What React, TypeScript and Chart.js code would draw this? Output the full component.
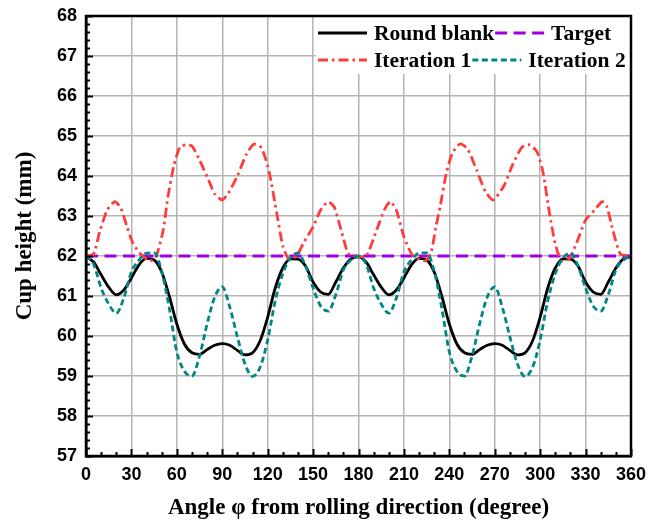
import React, { useEffect, useRef } from "react";
import { Chart, registerables } from "chart.js";

Chart.register(...registerables);

// ---- data ----
const angles = [
  0, 5, 10, 15, 20, 25, 30, 35, 40, 45, 50, 55, 60, 65, 70, 75, 80, 85, 90,
  95, 100, 105, 110, 115, 120, 125, 130, 135, 140, 145, 150, 155, 160, 165, 170, 175, 180,
  185, 190, 195, 200, 205, 210, 215, 220, 225, 230, 235, 240, 245, 250, 255, 260, 265, 270,
  275, 280, 285, 290, 295, 300, 305, 310, 315, 320, 325, 330, 335, 340, 345, 350, 355, 360,
];

const roundBlank = [
  61.98, 61.85, 61.53, 61.22, 61.03, 61.15, 61.45, 61.78, 61.94, 61.9, 61.6, 61.0, 60.3, 59.8, 59.58, 59.54, 59.66, 59.77, 59.81,
  59.77, 59.64, 59.53, 59.58, 59.88, 60.47, 61.2, 61.7, 61.93, 61.92, 61.75, 61.35, 61.1, 61.04, 61.35, 61.7, 61.93, 61.98,
  61.85, 61.53, 61.22, 61.03, 61.15, 61.45, 61.78, 61.94, 61.9, 61.6, 61.0, 60.3, 59.8, 59.58, 59.54, 59.66, 59.77, 59.81,
  59.77, 59.64, 59.53, 59.58, 59.88, 60.47, 61.2, 61.7, 61.93, 61.92, 61.75, 61.35, 61.1, 61.04, 61.35, 61.7, 61.93, 61.98,
];

const iteration2 = [
  62.0, 61.8, 61.2, 60.8, 60.57, 60.95, 61.6, 61.9, 62.07, 62.08, 61.62, 60.7, 59.6, 59.12, 59.0, 59.5, 60.3, 60.97, 61.23,
  60.72, 59.98, 59.3, 58.99, 59.22, 59.9, 60.88, 61.56, 61.95, 62.07, 61.75, 61.2, 60.75, 60.62, 61.03, 61.65, 61.9, 62.0,
  61.8, 61.2, 60.8, 60.57, 60.95, 61.6, 61.9, 62.07, 62.08, 61.62, 60.7, 59.6, 59.12, 59.0, 59.5, 60.3, 60.97, 61.23,
  60.72, 59.98, 59.3, 58.99, 59.22, 59.9, 60.88, 61.56, 61.95, 62.07, 61.75, 61.2, 60.75, 60.62, 61.03, 61.65, 61.9, 62.0,
];

const targetAngles = [0, 360];
const targetValues = [62, 62];

const iteration1Angles = [
  0, 5, 9, 14, 19, 23, 27, 31, 36, 42, 46, 51, 54, 58, 62, 66, 70, 75, 81, 85, 90,
  94, 100, 106, 111, 116, 121, 126, 130, 134, 139, 144, 150, 155, 160, 164, 168, 173, 177,
  185, 192, 197, 201, 205, 210, 216, 224, 228, 231, 234, 238, 242, 247, 252, 258, 264, 269,
  276, 282, 288, 293, 298, 302, 306, 310, 314, 319, 324, 330, 336, 341, 344, 348, 353, 360,
];
const iteration1 = [
  62.0, 62.05, 62.6, 63.15, 63.36, 63.2, 62.74, 62.32, 62.05, 61.88, 61.95, 62.65, 63.45, 64.25, 64.72, 64.78, 64.75, 64.4, 63.9, 63.55, 63.4,
  63.57, 64.0, 64.55, 64.8, 64.7, 64.1, 63.07, 62.25, 61.92, 62.0, 62.35, 62.73, 63.15, 63.36, 63.22, 62.72, 62.07, 62.0,
  62.0, 62.65, 63.15, 63.36, 63.15, 62.48, 62.0, 61.88, 62.1, 62.7, 63.25, 64.07, 64.57, 64.8, 64.68, 64.15, 63.6, 63.4,
  63.75, 64.3, 64.72, 64.78, 64.6, 64.07, 63.1, 62.3, 61.88, 61.93, 62.32, 62.9, 63.15, 63.36, 63.24, 62.65, 62.05, 62.0,
];

const X_MIN = 0;
const X_MAX = 360;
const X_STEP = 30;
const X_MINOR = 10;
const Y_MIN = 57;
const Y_MAX = 68;
const Y_STEP = 1;
const Y_MINOR = 0.2;

const seriesNames = ["Round blank", "Target", "Iteration 1", "Iteration 2"];

// ---- styles ----
const C_BLACK = "#000000";
const C_TARGET = "#a000e0";
const C_IT1 = "#ff3c3c";
const C_IT2 = "#008585";
const DASH_TARGET = [12, 6.5];
const DASH_IT1 = [10, 4, 2.5, 4];
const DASH_IT2 = [6, 3.5];
const SANS = "'Liberation Sans', Arial, sans-serif";
const SERIF = "'Liberation Serif', 'Times New Roman', serif";

const toXY = (xs: number[], ys: number[]) => xs.map((x, i) => ({ x, y: ys[i] }));

const decorPlugin = {
  id: "decor",
  afterDraw(chart: any) {
    const { ctx, chartArea: ca, scales } = chart;
    const xs = scales.x;
    const ys = scales.y;
    ctx.save();

    // minor/major inward ticks
    ctx.strokeStyle = "#000";
    ctx.lineWidth = 2;
    ctx.setLineDash([]);
    for (let v = X_MIN; v <= X_MAX + 1e-6; v += X_MINOR) {
      const px = Math.round(xs.getPixelForValue(v)) + 0.5;
      const major = Math.abs(v % X_STEP) < 1e-6;
      const len = major ? 7 : 4;
      ctx.beginPath();
      ctx.moveTo(px, ca.bottom);
      ctx.lineTo(px, ca.bottom - len);
      ctx.stroke();
    }
    for (let i = 0; Y_MIN + i * Y_MINOR <= Y_MAX + 1e-6; i++) {
      const v = Y_MIN + i * Y_MINOR;
      const py = Math.round(ys.getPixelForValue(v)) + 0.5;
      const major = i % Math.round(Y_STEP / Y_MINOR) === 0;
      const len = major ? 7 : 4;
      ctx.beginPath();
      ctx.moveTo(ca.left, py);
      ctx.lineTo(ca.left + len, py);
      ctx.stroke();
    }

    // legend
    const lgLeft = ca.right - 313;
    ctx.fillStyle = "#fff";
    ctx.fillRect(lgLeft - 2, ca.top + 1, ca.right - lgLeft + 1, 57);
    const rows = [
      [
        { name: seriesNames[0], color: C_BLACK, dash: [] as number[] },
        { name: seriesNames[1], color: C_TARGET, dash: DASH_TARGET },
      ],
      [
        { name: seriesNames[2], color: C_IT1, dash: DASH_IT1 },
        { name: seriesNames[3], color: C_IT2, dash: DASH_IT2 },
      ],
    ];
    ctx.font = `bold 21.5px ${SERIF}`;
    ctx.textBaseline = "middle";
    ctx.textAlign = "left";
    rows.forEach((row, r) => {
      const y = ca.top + 17 + r * 27;
      let x = lgLeft;
      row.forEach((it) => {
        ctx.strokeStyle = it.color;
        ctx.lineWidth = it.color === C_BLACK ? 2.8 : 3;
        ctx.setLineDash(it.dash);
        ctx.beginPath();
        ctx.moveTo(x, y);
        ctx.lineTo(x + 49, y);
        ctx.stroke();
        ctx.setLineDash([]);
        ctx.fillStyle = "#000";
        ctx.fillText(it.name, x + 56, y + 1);
        x += 56 + ctx.measureText(it.name).width + 1;
      });
    });

    // frame
    ctx.strokeStyle = "#000";
    ctx.lineWidth = 2.5;
    ctx.setLineDash([]);
    ctx.strokeRect(ca.left, ca.top, ca.right - ca.left, ca.bottom - ca.top);
    ctx.restore();
  },
};

export default function App() {
  const ref = useRef<HTMLCanvasElement | null>(null);

  useEffect(() => {
    if (!ref.current) return;
    const common = {
      pointRadius: 0,
      fill: false,
      borderCapStyle: "butt" as const,
      borderJoinStyle: "round" as const,
    };
    const chart = new Chart(ref.current, {
      type: "line",
      data: {
        datasets: [
          {
            ...common,
            label: seriesNames[3],
            data: toXY(angles, iteration2),
            borderColor: C_IT2,
            borderWidth: 2.8,
            borderDash: DASH_IT2,
            cubicInterpolationMode: "monotone",
            order: 1,
          },
          {
            ...common,
            label: seriesNames[2],
            data: toXY(iteration1Angles, iteration1),
            borderColor: C_IT1,
            borderWidth: 2.8,
            borderDash: DASH_IT1,
            tension: 0.2,
            order: 2,
          },
          {
            ...common,
            label: seriesNames[1],
            data: toXY(targetAngles, targetValues),
            borderColor: C_TARGET,
            borderWidth: 3,
            borderDash: DASH_TARGET,
            order: 3,
          },
          {
            ...common,
            label: seriesNames[0],
            data: toXY(angles, roundBlank),
            borderColor: C_BLACK,
            borderWidth: 2.8,
            cubicInterpolationMode: "monotone",
            order: 4,
          },
        ],
      },
      options: {
        animation: false,
        responsive: false,
        devicePixelRatio: 1,
        layout: { padding: { left: 0, top: 16, right: 31, bottom: 0 } },
        plugins: { legend: { display: false }, tooltip: { enabled: false } },
        scales: {
          x: {
            type: "linear",
            min: X_MIN,
            max: X_MAX,
            ticks: {
              stepSize: X_STEP,
              padding: 8,
              color: "#000",
              maxRotation: 0,
              autoSkip: false,
              font: { family: SANS, size: 18, weight: "bold" },
            },
            grid: { color: "#b4b4b4", lineWidth: 1.5, drawTicks: false },
            border: { display: true, color: "#000", width: 2.5 },
            title: {
              display: true,
              text: "Angle φ from rolling direction (degree)",
              color: "#000",
              font: { family: SERIF, size: 23, weight: "bold" },
              padding: { top: 0, bottom: 3 },
            },
            afterFit: (s: any) => {
              s.height = 69;
              s.paddingLeft = 0;
              s.paddingRight = 0;
            },
          },
          y: {
            type: "linear",
            min: Y_MIN,
            max: Y_MAX,
            ticks: {
              stepSize: Y_STEP,
              padding: 9,
              color: "#000",
              font: { family: SANS, size: 18, weight: "bold" },
            },
            grid: { color: "#b4b4b4", lineWidth: 1.5, drawTicks: false },
            border: { display: true, color: "#000", width: 2.5 },
            title: {
              display: true,
              text: "Cup height (mm)",
              color: "#000",
              font: { family: SERIF, size: 23, weight: "bold" },
              padding: { top: 11, bottom: 0 },
            },
            afterFit: (s: any) => {
              s.width = 86;
              s.paddingTop = 0;
              s.paddingBottom = 0;
            },
          },
        },
      } as any,
      plugins: [decorPlugin],
    });
    return () => chart.destroy();
  }, []);

  return (
    <div style={{ position: "fixed", left: 0, top: 0, width: 662, height: 525, background: "#fff" }}>
      <canvas ref={ref} width={662} height={525} style={{ display: "block" }} />
    </div>
  );
}
